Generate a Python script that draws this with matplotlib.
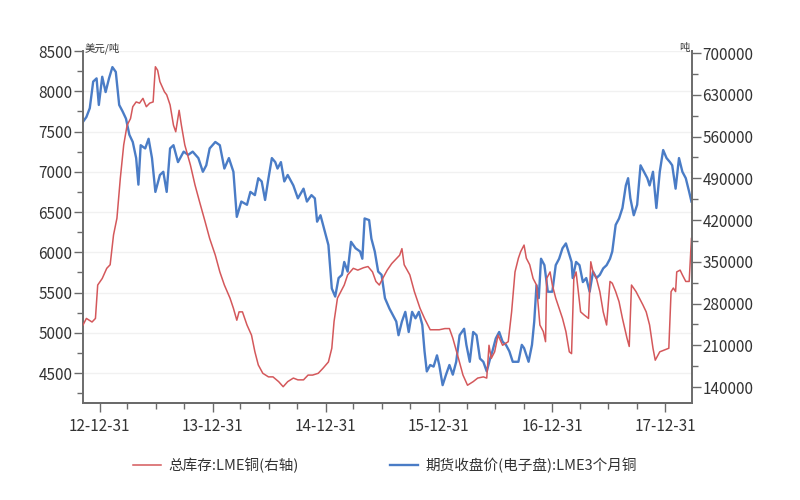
import numpy as np
import pandas as pd
import matplotlib
matplotlib.use('Agg')
import matplotlib.pyplot as plt
import matplotlib.dates as mdates
from matplotlib.ticker import MultipleLocator

plt.rcParams['font.family'] = ['Noto Sans CJK SC', 'DejaVu Sans']

# LME 3-month copper close (USD/t), left axis; time as decimal years
price_t = [2012.85, 2012.88, 2012.91, 2012.94, 2012.97, 2012.99, 2013.02, 2013.05, 2013.08, 2013.11,
           2013.14, 2013.17, 2013.20, 2013.23, 2013.26, 2013.29, 2013.32, 2013.34, 2013.36, 2013.40,
           2013.43, 2013.46, 2013.49, 2013.53, 2013.56, 2013.59, 2013.62, 2013.65, 2013.69, 2013.74,
           2013.78, 2013.82, 2013.87, 2013.91, 2013.94, 2013.97, 2014.02, 2014.06, 2014.10, 2014.14,
           2014.18, 2014.21, 2014.25, 2014.30, 2014.33, 2014.37, 2014.40, 2014.43, 2014.46, 2014.49,
           2014.52, 2014.55, 2014.57, 2014.60, 2014.63, 2014.66, 2014.71, 2014.75, 2014.80, 2014.83,
           2014.87, 2014.90, 2014.92, 2014.95, 2014.99, 2015.02, 2015.05, 2015.08, 2015.11, 2015.14,
           2015.16, 2015.19, 2015.22, 2015.26, 2015.30, 2015.32, 2015.34, 2015.38, 2015.40, 2015.43,
           2015.46, 2015.49, 2015.52, 2015.56, 2015.59, 2015.62, 2015.64, 2015.67, 2015.70, 2015.73,
           2015.76, 2015.79, 2015.82, 2015.85, 2015.87, 2015.89, 2015.92, 2015.95, 2015.98, 2016.00,
           2016.03, 2016.06, 2016.09, 2016.12, 2016.15, 2016.18, 2016.22, 2016.24, 2016.27, 2016.30,
           2016.33, 2016.36, 2016.39, 2016.42, 2016.45, 2016.47, 2016.50, 2016.53, 2016.56, 2016.59,
           2016.62, 2016.65, 2016.70, 2016.73, 2016.75, 2016.79, 2016.82, 2016.84, 2016.86, 2016.88,
           2016.90, 2016.93, 2016.96, 2016.98, 2017.00, 2017.03, 2017.06, 2017.09, 2017.12, 2017.15,
           2017.17, 2017.18, 2017.21, 2017.24, 2017.27, 2017.30, 2017.33, 2017.36, 2017.39, 2017.42,
           2017.45, 2017.48, 2017.51, 2017.53, 2017.56, 2017.59, 2017.62, 2017.65, 2017.67, 2017.69,
           2017.72, 2017.75, 2017.78, 2017.81, 2017.84, 2017.86, 2017.89, 2017.92, 2017.95, 2017.98,
           2018.01, 2018.04, 2018.06, 2018.09, 2018.12, 2018.15, 2018.18, 2018.21, 2018.23]
price = [7620, 7680, 7790, 8120, 8160, 7830, 8180, 7990, 8160, 8300,
         8240, 7830, 7750, 7660, 7460, 7370, 7170, 6840, 7330, 7290,
         7410, 7170, 6750, 6960, 7000, 6750, 7290, 7330, 7120, 7250,
         7210, 7250, 7170, 7000, 7080, 7290, 7370, 7330, 7040, 7170,
         7000, 6440, 6630, 6590, 6750, 6710, 6920, 6880, 6650, 6920,
         7170, 7120, 7040, 7120, 6880, 6960, 6830, 6670, 6790, 6630,
         6710, 6670, 6380, 6460, 6250, 6090, 5550, 5450, 5680, 5720,
         5880, 5760, 6130, 6050, 6010, 5920, 6420, 6400, 6170, 6010,
         5760, 5720, 5430, 5300, 5220, 5140, 4970, 5140, 5260, 5010,
         5260, 5180, 5260, 5100, 4770, 4520, 4600, 4580, 4720, 4600,
         4350, 4480, 4600, 4480, 4640, 4970, 5050, 4850, 4640, 5010,
         4970, 4680, 4640, 4520, 4680, 4770, 4930, 5010, 4890, 4850,
         4770, 4640, 4640, 4850, 4810, 4640, 4850, 5140, 5590, 5430,
         5920, 5840, 5510, 5510, 5510, 5840, 5920, 6050, 6110, 5970,
         5880, 5680, 5880, 5840, 5630, 5680, 5510, 5760, 5680, 5720,
         5800, 5840, 5920, 6010, 6340, 6420, 6550, 6830, 6920, 6670,
         6460, 6590, 7080, 7000, 6920, 6830, 7000, 6550, 7000, 7270,
         7170, 7120, 7080, 6790, 7170, 7000, 6920, 6750, 6630]

# LME copper total stocks (t), right axis
stock_t = [2012.85, 2012.88, 2012.93, 2012.96, 2012.98, 2013.02, 2013.06, 2013.09, 2013.12, 2013.15,
           2013.18, 2013.21, 2013.24, 2013.27, 2013.29, 2013.32, 2013.35, 2013.38, 2013.41, 2013.44,
           2013.47, 2013.49, 2013.51, 2013.53, 2013.57, 2013.59, 2013.62, 2013.65, 2013.67, 2013.70,
           2013.72, 2013.75, 2013.80, 2013.84, 2013.88, 2013.93, 2013.97, 2014.02, 2014.06, 2014.10,
           2014.15, 2014.18, 2014.21, 2014.23, 2014.26, 2014.30, 2014.34, 2014.37, 2014.40, 2014.44,
           2014.49, 2014.53, 2014.58, 2014.62, 2014.66, 2014.71, 2014.75, 2014.80, 2014.84, 2014.88,
           2014.93, 2014.97, 2015.02, 2015.05, 2015.07, 2015.10, 2015.13, 2015.16, 2015.19, 2015.24,
           2015.28, 2015.33, 2015.37, 2015.41, 2015.44, 2015.47, 2015.50, 2015.54, 2015.58, 2015.61,
           2015.65, 2015.67, 2015.69, 2015.74, 2015.78, 2015.83, 2015.87, 2015.92, 2015.96, 2016.00,
           2016.05, 2016.09, 2016.12, 2016.17, 2016.21, 2016.25, 2016.30, 2016.34, 2016.39, 2016.42,
           2016.44, 2016.46, 2016.49, 2016.52, 2016.56, 2016.61, 2016.64, 2016.67, 2016.70, 2016.72,
           2016.75, 2016.77, 2016.80, 2016.83, 2016.86, 2016.89, 2016.92, 2016.94, 2016.95, 2016.98,
           2017.00, 2017.03, 2017.06, 2017.09, 2017.12, 2017.15, 2017.17, 2017.19, 2017.21, 2017.23,
           2017.25, 2017.28, 2017.32, 2017.34, 2017.36, 2017.39, 2017.42, 2017.45, 2017.48, 2017.51,
           2017.53, 2017.56, 2017.59, 2017.62, 2017.66, 2017.68, 2017.70, 2017.74, 2017.77, 2017.80,
           2017.83, 2017.86, 2017.89, 2017.91, 2017.95, 2017.99, 2018.03, 2018.05, 2018.07, 2018.09,
           2018.10, 2018.13, 2018.15, 2018.18, 2018.21, 2018.23]
stock = [244000, 255000, 249000, 255000, 311000, 322000, 339000, 345000, 395000, 423000,
         490000, 546000, 579000, 590000, 610000, 618000, 616000, 624000, 610000, 616000,
         618000, 677000, 671000, 652000, 635000, 630000, 613000, 579000, 568000, 604000,
         579000, 546000, 512000, 479000, 451000, 417000, 389000, 361000, 333000, 311000,
         289000, 272000, 252000, 266000, 266000, 244000, 227000, 199000, 177000, 163000,
         157000, 157000, 149000, 140500, 149000, 155000, 152000, 152000, 160000, 160000,
         163000, 171000, 182000, 205000, 250000, 289000, 300000, 311000, 328000, 339000,
         336000, 340000, 342000, 333000, 317000, 311000, 322000, 336000, 347000, 353000,
         361000, 372000, 345000, 328000, 300000, 272000, 255000, 236000, 236000, 236000,
         238000, 238000, 222000, 188000, 160000, 143000, 149000, 155000, 157000, 155000,
         210000, 188000, 199000, 227000, 210000, 216000, 266000, 333000, 356000, 367000,
         378000, 356000, 345000, 322000, 311000, 244000, 233000, 216000, 322000, 333000,
         311000, 289000, 272000, 255000, 233000, 199000, 196000, 322000, 333000, 300000,
         266000, 261000, 255000, 350000, 333000, 322000, 300000, 266000, 244000, 317000,
         314000, 300000, 283000, 255000, 222000, 208000, 311000, 300000, 289000, 278000,
         266000, 244000, 205000, 185000, 199000, 202000, 205000, 300000, 306000, 300000,
         333000, 336000, 328000, 317000, 317000, 389000]

tick_dates = ['2012-12-31', '2013-12-31', '2014-12-31', '2015-12-31', '2016-12-31', '2017-12-31']
tick_labels = ['12-12-31', '13-12-31', '14-12-31', '15-12-31', '16-12-31', '17-12-31']
series_names = ['总库存:LME铜(右轴)', '期货收盘价(电子盘):LME3个月铜']


def to_dates(yrs):
    return pd.Timestamp('2013-01-01') + pd.to_timedelta((np.array(yrs) - 2013) * 365.25, unit='D')


red = '#d4585b'
blue = '#4a7cc6'
spine_c = '#6b6b6b'
text_c = '#333333'

fig = plt.figure(figsize=(8, 5), dpi=100)
ax = fig.add_axes([83 / 800, 97 / 500, 609 / 800, 352 / 500])
ax2 = ax.twinx()

l_blue, = ax.plot(to_dates(price_t), price, color=blue, lw=1.7)
l_red, = ax2.plot(to_dates(stock_t), stock, color=red, lw=1.1)

ax.set_xlim(to_dates([2012.85])[0], to_dates([2018.235])[0])
ax.set_ylim(4128, 8500)
ax2.set_ylim(113200, 703400)

ax.yaxis.set_major_locator(MultipleLocator(500))
ax.yaxis.set_minor_locator(MultipleLocator(250))
ax2.yaxis.set_major_locator(MultipleLocator(70000))
ax2.yaxis.set_minor_locator(MultipleLocator(35000))
ax.set_yticks(np.arange(4500, 8501, 500))
ax2.set_yticks(np.arange(140000, 700001, 70000))

ax.set_xticks(pd.to_datetime(tick_dates))
ax.set_xticklabels(tick_labels)
ax.xaxis.set_minor_locator(mdates.MonthLocator(bymonth=[3, 6, 9], bymonthday=30))

ax.yaxis.grid(True, color='#f1f1f1', lw=1)
ax.set_axisbelow(True)

for a in (ax, ax2):
    a.spines['top'].set_visible(False)
    for s in a.spines.values():
        s.set_color(spine_c)
        s.set_linewidth(1.4)
    a.tick_params(which='major', length=6.5, width=1, color=spine_c, labelcolor=text_c, labelsize=11)
    a.tick_params(which='minor', length=4, width=1, color=spine_c)
ax.spines['right'].set_visible(False)
ax2.spines['left'].set_visible(False)
ax.tick_params(axis='y', pad=1)
ax2.tick_params(axis='y', pad=1)
ax.tick_params(axis='x', pad=4)

fig.text(85 / 800, 1 - 48 / 500, '美元/吨', fontsize=7.5, color=text_c, va='center', ha='left')
fig.text(690 / 800, 1 - 48 / 500, '吨', fontsize=7.5, color=text_c, va='center', ha='right')

fig.legend([l_red, l_blue], series_names, loc='center left', bbox_to_anchor=(133 / 800, 1 - 465 / 500),
           ncol=2, frameon=False, fontsize=10.5, handlelength=1.9, handletextpad=0.5,
           columnspacing=6.3, borderpad=0, borderaxespad=0, labelcolor=text_c)

fig.savefig('out.png', dpi=100)
